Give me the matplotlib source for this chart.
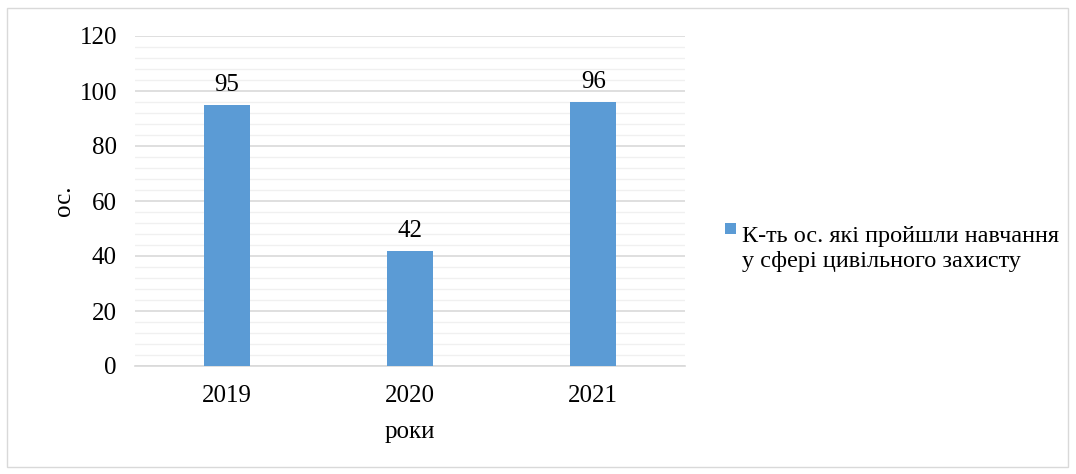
import matplotlib
matplotlib.use("Agg")
import matplotlib.pyplot as plt
from matplotlib.ticker import MultipleLocator
from matplotlib.patches import Rectangle

years = ["2019", "2020", "2021"]
values = [95, 42, 96]
series_label = "К-ть ос. які пройшли навчання\nу сфері цивільного захисту"
bar_color = '#5b9bd5'

plt.rcParams['font.family'] = ['Liberation Serif', 'DejaVu Serif']
FS = 18

W, H = 1076, 474
fig = plt.figure(figsize=(W / 100, H / 100), dpi=100)
ax = fig.add_axes([135 / W, 1 - 366 / H, 550 / W, 330 / H])

x = list(range(len(years)))
bars = ax.bar(x, values, width=0.25, color=bar_color, zorder=3)
for xi, v in zip(x, values):
    ax.annotate(str(v), (xi, v), xytext=(0, 6.3), textcoords='offset points',
                ha='center', va='bottom', fontsize=FS, color='#000000')

ax.set_xlim(-0.5, 2.5)
ax.set_ylim(0, 120)
ax.yaxis.set_major_locator(MultipleLocator(20))
ax.yaxis.set_minor_locator(MultipleLocator(4))
ax.grid(which='major', axis='y', color='#d9d9d9', linewidth=1.2, zorder=0)
ax.grid(which='minor', axis='y', color='#f0f0f0', linewidth=1.0, zorder=0)
ax.set_xticks(x)
ax.set_xticklabels(years)
ax.tick_params(axis='both', which='both', length=0, labelsize=FS)
ax.tick_params(axis='x', pad=13.5)
ax.tick_params(axis='y', pad=13)
for s in ['top', 'right', 'left']:
    ax.spines[s].set_visible(False)
ax.spines['bottom'].set_color('#d9d9d9')
ax.spines['bottom'].set_linewidth(1.2)

ax.set_xlabel("роки", fontsize=FS, labelpad=10.5)
ax.set_ylabel("ос.", fontsize=FS, labelpad=3.5)

# legend (manual, to match top-aligned marker)
fig.patches.append(Rectangle((725 / W, 1 - 234 / H), 11 / W, 11 / H, transform=fig.transFigure,
                             facecolor=bar_color, edgecolor='none'))
fig.text(742 / W, 1 - 267 / H, series_label, fontsize=17.5, ha='left', va='baseline',
         linespacing=1.26)

fig.patches.append(Rectangle((7 / W, 7 / H), 1061 / W, 459 / H, transform=fig.transFigure,
                             fill=False, edgecolor='#d9d9d9', linewidth=1.0))

fig.savefig("out.png", dpi=100)
